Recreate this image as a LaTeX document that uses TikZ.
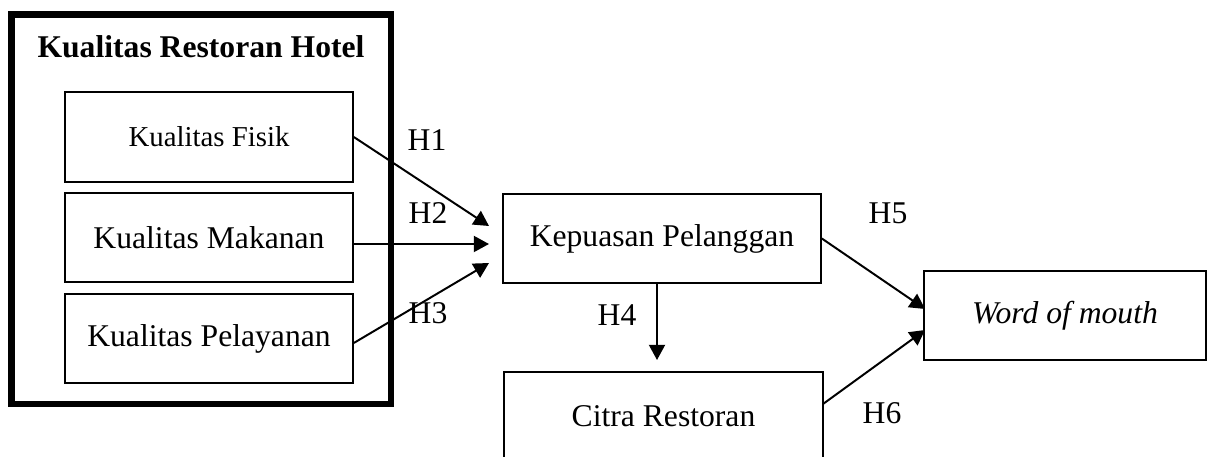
\documentclass[tikz,border=0pt]{standalone}
\usepackage{fontspec}
\setmainfont{Liberation Serif}
\usetikzlibrary{arrows.meta}

\tikzset{
  box/.style={shape=rectangle,draw,line width=1.1pt,minimum height=2.225cm,
              font=\fontsize{22.5}{27}\selectfont},
  hlab/.style={font=\fontsize{22.5}{27}\selectfont},
  arr/.style={-{Triangle[length=3.8mm,width=4mm]},line width=1.4pt}
}

\begin{document}
\begin{tikzpicture}[x=0.025cm,y=-0.025cm]
  \clip (0,0) rectangle (1214,457);

  \node (outer) at (201.25,209.25) [shape=rectangle,draw,line width=4.8pt,
        minimum width=9.4875cm,minimum height=9.7375cm] {};
  \node (title) at (201,47) [font=\fontsize{22.5}{27}\selectfont\bfseries] {Kualitas Restoran Hotel};

  \node (fisik) at (209,137) [box,minimum width=7.2cm,minimum height=2.25cm,
        font=\fontsize{20.5}{25}\selectfont] {Kualitas Fisik};
  \node (makanan) at (209,237.5) [box,minimum width=7.2cm] {Kualitas Makanan};
  \node (pelayanan) at (209,338.5) [box,minimum width=7.2cm] {Kualitas Pelayanan};

  \node (kepuasan) at (662,238.5) [box,minimum width=7.95cm] {Kepuasan Pelanggan};
  \node (citra) at (663.5,416.5) [box,minimum width=7.975cm] {Citra Restoran};
  \node (wom) at (1065,315.5) [box,minimum width=7.05cm] {\itshape Word of mouth};

  \coordinate (t1) at (489,226);
  \coordinate (t2) at (489,244);
  \coordinate (t3) at (489,263);
  \coordinate (s4) at (657,283);
  \coordinate (t4) at (657,360);
  \coordinate (t5) at (925,309);
  \coordinate (t6) at (925,330);
  \coordinate (s6) at (823,404);

  \draw [arr] (fisik.east) -- (t1);
  \draw [arr] (makanan.east |- t2) -- (t2);
  \draw [arr] (pelayanan.east |- 0,343) -- (t3);
  \draw [arr] (s4) -- (t4);
  \draw [arr] (kepuasan.east) -- (t5);
  \draw [arr] (s6) -- (t6);

  \node (h1) at (427,140) [hlab] {H1};
  \node (h2) at (428,213) [hlab] {H2};
  \node (h3) at (428,313) [hlab] {H3};
  \node (h4) at (617,315) [hlab] {H4};
  \node (h5) at (888,213) [hlab] {H5};
  \node (h6) at (882,413) [hlab] {H6};
\end{tikzpicture}
\end{document}
